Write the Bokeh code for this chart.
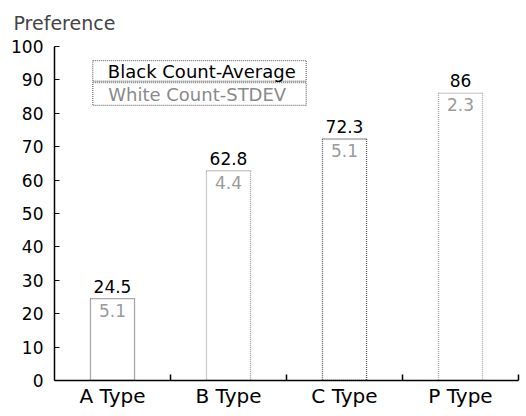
from bokeh.plotting import figure
from bokeh.models import Range1d, FixedTicker, ColumnDataSource, Label
from bokeh.embed import file_html
from bokeh.resources import INLINE
from bokeh.core.properties import value

categories = ["A Type", "B Type", "C Type", "P Type"]
averages = [24.5, 62.8, 72.3, 86]
avg_labels = ["24.5", "62.8", "72.3", "86"]
stdevs = ["5.1", "4.4", "5.1", "2.3"]
y_ticks = [0, 10, 20, 30, 40, 50, 60, 70, 80, 90, 100]

FONT = "DejaVu Sans"
bar_line_colors = ["#555555", "#9a9a9a", "#555555", "#aaaaaa"]

xs = [i + 0.5 for i in range(len(categories))]
src = ColumnDataSource(dict(x=xs, avg=averages, lab=avg_labels, sd=stdevs,
                            lc=bar_line_colors))

p = figure(frame_width=464, frame_height=334, output_backend="svg", toolbar_location=None,
           x_range=Range1d(0, 4), y_range=Range1d(0, 100),
           min_border_left=54, min_border_right=6, min_border_bottom=34, min_border_top=46)
p.title.text = "Preference"
p.title.text_font = FONT
p.title.text_font_size = "19px"
p.title.text_font_style = "normal"
p.title.align = "left"
p.title.vertical_align = "top"
p.title.offset = -41
p.title.standoff = 21
p.outline_line_color = None
p.grid.grid_line_color = None
p.background_fill_color = "white"

# axes
p.xaxis.ticker = FixedTicker(ticks=xs, minor_ticks=[1, 2, 3, 4])
p.xaxis.major_label_overrides = {x: c for x, c in zip(xs, categories)}
p.xaxis.major_tick_line_color = None
p.xaxis.minor_tick_in = 6
p.xaxis.minor_tick_out = 0
p.xaxis.minor_tick_line_color = "black"
p.xaxis.minor_tick_line_width = 1.5
p.xaxis.axis_line_color = "black"
p.xaxis.axis_line_width = 1.5
p.xaxis.major_label_text_font = FONT
p.xaxis.major_label_text_font_size = "20px"
p.xaxis.major_label_text_color = "black"
p.xaxis.major_label_standoff = -3

p.yaxis.ticker = FixedTicker(ticks=y_ticks)
p.yaxis.major_tick_in = 5
p.yaxis.major_tick_out = 0
p.yaxis.minor_tick_line_color = None
p.yaxis.major_tick_line_color = "black"
p.yaxis.major_tick_line_width = 1.2
p.yaxis.axis_line_color = "black"
p.yaxis.axis_line_width = 1.5
p.yaxis.major_label_text_font = FONT
p.yaxis.major_label_text_font_size = "17px"
p.yaxis.major_label_text_color = "black"
p.yaxis.major_label_standoff = 11

# bars
p.vbar(x="x", top="avg", width=0.38, bottom=0, source=src, fill_color="white",
       line_color="lc", line_dash="1 1", line_width=1.3)

# average labels
p.text(x="x", y="avg", text="lab", source=src, text_align="center", text_baseline="bottom",
       y_offset=-6, text_font=value(FONT), text_font_size="17px", text_color="black")
# stdev labels
p.text(x="x", y="avg", text="sd", source=src, text_align="center", text_baseline="top",
       y_offset=5, text_font=value(FONT), text_font_size="17px", text_color="#9a9a9a")

# legend boxes
p.quad(left=[0.33, 0.33], right=[2.17, 2.17], top=[95.8, 89.2], bottom=[89.6, 82.4],
       fill_color="white", line_color="#777777", line_dash="1 1", line_width=1.3)
p.add_layout(Label(x=1.27, y=92.6, text="Black Count-Average", text_align="center",
                   text_baseline="middle", text_font=FONT, text_font_size="18px",
                   text_color="black"))
p.add_layout(Label(x=1.23, y=85.7, text="White Count-STDEV", text_align="center",
                   text_baseline="middle", text_font=FONT, text_font_size="18px",
                   text_color="#8a8a8a"))

open("out.html", "w").write(file_html(p, INLINE))
